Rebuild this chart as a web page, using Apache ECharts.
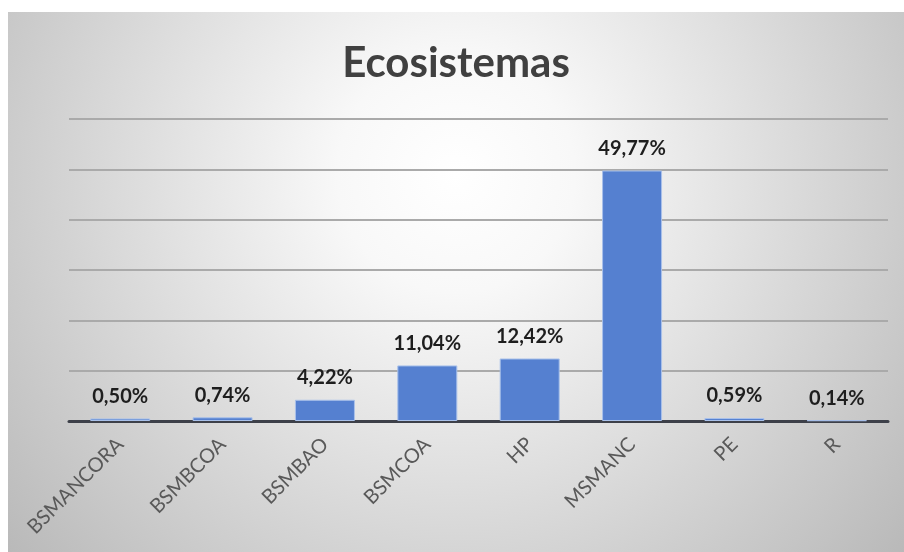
<!DOCTYPE html>
<html>
<head>
<meta charset="utf-8">
<script src="https://cdn.jsdelivr.net/npm/echarts@6/dist/echarts.min.js"></script>
<style>
  html, body { margin: 0; padding: 0; background: #ffffff; }
  #chart { position: absolute; left: 8px; top: 12px; width: 896px; height: 540px; }
</style>
</head>
<body>
<div id="chart"></div>
<script>
// Share of each ecosystem type (%)
const categories = ['BSMANCORA', 'BSMBCOA', 'BSMBAO', 'BSMCOA', 'HP', 'MSMANC', 'PE', 'R'];
const shares = [0.50, 0.74, 4.22, 11.04, 12.42, 49.77, 0.59, 0.14];
const yTicks = [0, 10, 20, 30, 40, 50, 60];

const chart = echarts.init(document.getElementById('chart'), null, { renderer: 'canvas' });

chart.setOption({
  backgroundColor: {
    type: 'radial', x: 0.5, y: 0.3, r: 1.1,
    colorStops: [
      { offset: 0, color: '#ffffff' },
      { offset: 0.2, color: '#f8f8f8' },
      { offset: 1, color: '#b8b8b8' }
    ]
  },
  animation: false,
  title: {
    text: 'Ecosistemas',
    left: 'center',
    top: 25,
    textStyle: { fontFamily: 'Lato', fontWeight: 'bold', fontSize: 42, color: '#404040' }
  },
  grid: { left: 61, right: 16, top: 107, bottom: 131, containLabel: false },
  xAxis: {
    type: 'category',
    data: categories,
    axisTick: { show: false },
    axisLine: { lineStyle: { color: '#3d4049', width: 3 } },
    axisLabel: {
      rotate: 45, interval: 0, margin: 20,
      fontFamily: 'Lato', fontSize: 20, color: '#595959'
    }
  },
  yAxis: {
    type: 'value',
    min: yTicks[0], max: yTicks[yTicks.length - 1], interval: 10,
    axisLabel: { show: false },
    axisLine: { show: false },
    axisTick: { show: false },
    splitLine: { lineStyle: { color: '#aaaaaa', width: 2 } }
  },
  series: [{
    type: 'bar',
    data: shares,
    barWidth: 60,
    itemStyle: { color: '#5580d0', borderColor: '#a9c1ea', borderWidth: 1 },
    label: {
      show: true, position: 'top', distance: 12,
      fontFamily: 'Lato', fontWeight: 'bold', fontSize: 20, color: '#1e1e1e',
      formatter: p => p.value.toFixed(2).replace('.', ',') + '%'
    }
  }]
});
</script>
</body>
</html>
